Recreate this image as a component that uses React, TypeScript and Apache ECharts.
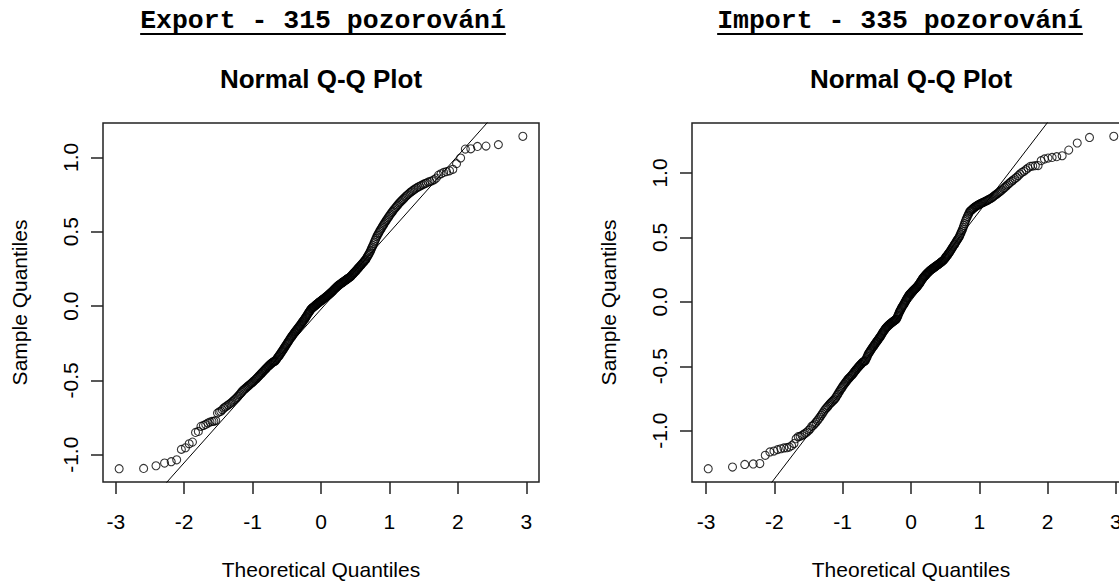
import React, { useEffect, useRef } from "react";
import * as echarts from "echarts";

const exportTitle = "Export - 315 pozorování";
const importTitle = "Import - 335 pozorování";
const plotTitle = "Normal Q-Q Plot";
const xName = "Theoretical Quantiles";
const yName = "Sample Quantiles";
const xTicks = [-3, -2, -1, 0, 1, 2, 3];
const yTicks = [-1, -0.5, 0, 0.5, 1];

// sorted sample values (Export, 315 obs.)
const exportSample = [
  -1.094, -1.092, -1.074, -1.056, -1.047, -1.034, -0.964, -0.953, -0.926, -0.915,
  -0.850, -0.843, -0.809, -0.803, -0.796, -0.787, -0.780, -0.776, -0.775, -0.770,
  -0.720, -0.712, -0.708, -0.697, -0.686,
  -0.679, -0.672, -0.666, -0.659, -0.653,
  -0.645, -0.638, -0.630, -0.623, -0.615,
  -0.606, -0.597, -0.589, -0.580, -0.571,
  -0.565, -0.559, -0.553, -0.547, -0.541,
  -0.536, -0.531, -0.525, -0.520, -0.515,
  -0.509, -0.504, -0.498, -0.493, -0.487,
  -0.481, -0.475, -0.470, -0.464, -0.458,
  -0.452, -0.447, -0.441, -0.436, -0.430,
  -0.425, -0.420, -0.414, -0.409, -0.404,
  -0.400, -0.395, -0.391, -0.386, -0.382,
  -0.379, -0.376, -0.373, -0.371, -0.368,
  -0.362, -0.356, -0.349, -0.343, -0.337,
  -0.331, -0.324, -0.318, -0.311, -0.305,
  -0.298, -0.292, -0.285, -0.279, -0.272,
  -0.266, -0.259, -0.253, -0.246, -0.240,
  -0.234, -0.228, -0.221, -0.215, -0.209,
  -0.203, -0.198, -0.192, -0.187, -0.181,
  -0.176, -0.171, -0.166, -0.161, -0.156,
  -0.151, -0.146, -0.140, -0.135, -0.130,
  -0.125, -0.120, -0.114, -0.109, -0.104,
  -0.099, -0.093, -0.088, -0.082, -0.077,
  -0.071, -0.065, -0.059, -0.053, -0.047,
  -0.041, -0.036, -0.030, -0.025, -0.019,
  -0.016, -0.013, -0.010, -0.007, -0.004,
  -0.001, 0.003, 0.006, 0.009, 0.012,
  0.015, 0.018, 0.021, 0.024, 0.027,
  0.030, 0.033, 0.035, 0.038, 0.041,
  0.044, 0.047, 0.049, 0.052, 0.055,
  0.058, 0.061, 0.064, 0.067, 0.070,
  0.073, 0.076, 0.080, 0.083, 0.086,
  0.090, 0.093, 0.097, 0.100, 0.104,
  0.108, 0.112, 0.115, 0.119, 0.123,
  0.126, 0.130, 0.133, 0.137, 0.140,
  0.143, 0.146, 0.148, 0.151, 0.154,
  0.157, 0.160, 0.162, 0.165, 0.168,
  0.171, 0.174, 0.176, 0.179, 0.182,
  0.185, 0.188, 0.190, 0.193, 0.196,
  0.200, 0.204, 0.209, 0.213, 0.217,
  0.222, 0.226, 0.231, 0.235, 0.240,
  0.245, 0.250, 0.254, 0.259, 0.264,
  0.269, 0.274, 0.279, 0.284, 0.289,
  0.294, 0.299, 0.305, 0.310, 0.315,
  0.323, 0.331, 0.340, 0.348, 0.356,
  0.366, 0.376, 0.387, 0.397, 0.407,
  0.419, 0.431, 0.443, 0.455, 0.467,
  0.476, 0.486, 0.495, 0.505, 0.514,
  0.523, 0.532, 0.541, 0.550, 0.559,
  0.568, 0.577, 0.585, 0.594, 0.603,
  0.612, 0.620, 0.629, 0.637, 0.646,
  0.654, 0.662, 0.671, 0.679, 0.687,
  0.695, 0.702, 0.710, 0.717, 0.725,
  0.733, 0.740, 0.748, 0.755, 0.763,
  0.769, 0.776, 0.782, 0.789, 0.795,
  0.801, 0.806, 0.812, 0.817, 0.823,
  0.827, 0.834, 0.838, 0.843, 0.850,
  0.861, 0.881, 0.890, 0.899, 0.904,
  0.910, 0.920, 0.958, 0.996, 1.056,
  1.058, 1.074, 1.076, 1.086, 1.142,
];

// sorted sample values (Import, 335 obs.)
const importSample = [
  -1.295, -1.282, -1.262, -1.258, -1.255, -1.191, -1.165, -1.158, -1.147, -1.140,
  -1.134, -1.132, -1.127, -1.116, -1.100, -1.062, -1.046, -1.044, -1.036, -1.028,
  -1.018, -1.010, -0.997, -0.985, -0.966,
  -0.959, -0.947, -0.934, -0.922, -0.909,
  -0.895, -0.881, -0.868, -0.854, -0.840,
  -0.830, -0.820, -0.810, -0.800, -0.790,
  -0.782, -0.775, -0.767, -0.760, -0.752,
  -0.740, -0.728, -0.717, -0.705, -0.693,
  -0.683, -0.673, -0.663, -0.653, -0.643,
  -0.635, -0.626, -0.618, -0.609, -0.601,
  -0.595, -0.589, -0.582, -0.576, -0.570,
  -0.563, -0.556, -0.548, -0.541, -0.534,
  -0.527, -0.521, -0.514, -0.508, -0.501,
  -0.495, -0.490, -0.484, -0.479, -0.473,
  -0.468, -0.465, -0.462, -0.459, -0.455,
  -0.444, -0.433, -0.422, -0.411, -0.401,
  -0.394, -0.387, -0.379, -0.372, -0.365,
  -0.358, -0.351, -0.345, -0.338, -0.331,
  -0.325, -0.319, -0.312, -0.306, -0.300,
  -0.294, -0.288, -0.281, -0.275, -0.269,
  -0.262, -0.255, -0.247, -0.240, -0.233,
  -0.227, -0.221, -0.214, -0.208, -0.202,
  -0.198, -0.194, -0.189, -0.185, -0.181,
  -0.177, -0.174, -0.170, -0.167, -0.163,
  -0.160, -0.157, -0.154, -0.151, -0.148,
  -0.145, -0.142, -0.138, -0.135, -0.132,
  -0.122, -0.112, -0.103, -0.093, -0.083,
  -0.075, -0.067, -0.060, -0.052, -0.044,
  -0.037, -0.031, -0.024, -0.018, -0.011,
  -0.003, 0.004, 0.012, 0.019, 0.027,
  0.033, 0.039, 0.046, 0.052, 0.058,
  0.062, 0.066, 0.070, 0.074, 0.078,
  0.082, 0.086, 0.090, 0.094, 0.098,
  0.102, 0.106, 0.110, 0.114, 0.118,
  0.123, 0.129, 0.134, 0.140, 0.145,
  0.152, 0.158, 0.165, 0.171, 0.178,
  0.183, 0.188, 0.193, 0.198, 0.203,
  0.207, 0.211, 0.216, 0.220, 0.224,
  0.228, 0.232, 0.236, 0.240, 0.244,
  0.247, 0.250, 0.254, 0.257, 0.260,
  0.263, 0.266, 0.269, 0.272, 0.275,
  0.278, 0.281, 0.285, 0.288, 0.291,
  0.294, 0.297, 0.301, 0.304, 0.307,
  0.311, 0.315, 0.318, 0.322, 0.326,
  0.332, 0.338, 0.344, 0.350, 0.356,
  0.362, 0.369, 0.375, 0.382, 0.388,
  0.395, 0.403, 0.410, 0.418, 0.425,
  0.433, 0.441, 0.448, 0.456, 0.464,
  0.472, 0.480, 0.487, 0.495, 0.503,
  0.515, 0.527, 0.539, 0.551, 0.563,
  0.578, 0.593, 0.608, 0.623, 0.638,
  0.650, 0.662, 0.675, 0.687, 0.699,
  0.705, 0.710, 0.716, 0.721, 0.727,
  0.731, 0.736, 0.740, 0.745, 0.749,
  0.752, 0.756, 0.759, 0.763, 0.766,
  0.769, 0.773, 0.776, 0.780, 0.783,
  0.787, 0.791, 0.795, 0.799, 0.803,
  0.809, 0.815, 0.822, 0.828, 0.834,
  0.841, 0.848, 0.855, 0.862, 0.869,
  0.879, 0.888, 0.898, 0.907, 0.917,
  0.927, 0.937, 0.946, 0.956, 0.966,
  0.979, 0.992, 1.005, 1.013, 1.026,
  1.039, 1.052, 1.054, 1.057, 1.058,
  1.096, 1.109, 1.116, 1.121, 1.127,
  1.134, 1.178, 1.233, 1.276, 1.285,
];

// inverse standard normal CDF (Acklam)
function qnorm(p: number): number {
  const a = [-39.69683028665376, 220.9460984245205, -275.9285104469687, 138.357751867269, -30.66479806614716, 2.506628277459239];
  const b = [-54.47609879822406, 161.5858368580409, -155.6989798598866, 66.80131188771972, -13.28068155288572];
  const c = [-0.007784894002430293, -0.3223964580411365, -2.400758277161838, -2.549732539343734, 4.374664141464968, 2.938163982698783];
  const d = [0.007784695709041462, 0.3224671290700398, 2.445134137142996, 3.754408661907416];
  const pl = 0.02425;
  if (p < pl) {
    const q = Math.sqrt(-2 * Math.log(p));
    return (((((c[0] * q + c[1]) * q + c[2]) * q + c[3]) * q + c[4]) * q + c[5]) /
      ((((d[0] * q + d[1]) * q + d[2]) * q + d[3]) * q + 1);
  }
  if (p > 1 - pl) {
    const q = Math.sqrt(-2 * Math.log(1 - p));
    return -(((((c[0] * q + c[1]) * q + c[2]) * q + c[3]) * q + c[4]) * q + c[5]) /
      ((((d[0] * q + d[1]) * q + d[2]) * q + d[3]) * q + 1);
  }
  const q = p - 0.5;
  const r = q * q;
  return (((((a[0] * r + a[1]) * r + a[2]) * r + a[3]) * r + a[4]) * r + a[5]) * q /
    (((((b[0] * r + b[1]) * r + b[2]) * r + b[3]) * r + b[4]) * r + 1);
}

function quantile7(s: number[], p: number): number {
  const h = (s.length - 1) * p;
  const lo = Math.floor(h);
  const hi = Math.min(lo + 1, s.length - 1);
  return s[lo] + (h - lo) * (s[hi] - s[lo]);
}

function expand(lo: number, hi: number): [number, number] {
  const e = (hi - lo) * 0.04;
  return [lo - e, hi + e];
}

const FONT = "'Liberation Sans', Arial, sans-serif";
const MONO = "'Liberation Mono', 'Courier New', monospace";

export default function App() {
  const ref = useRef<HTMLDivElement>(null);

  useEffect(() => {
    if (!ref.current) return;
    const chart = echarts.init(ref.current, undefined, { renderer: "svg" });

    const panels = [
      { sample: exportSample, head: exportTitle, grid: { left: 103, top: 123, width: 436, height: 360 }, headX: 323 },
      { sample: importSample, head: importTitle, grid: { left: 692, top: 123, width: 438, height: 360 }, headX: 900 },
    ];

    const grids: any[] = [];
    const xAxes: any[] = [];
    const yAxes: any[] = [];
    const series: any[] = [];
    const graphic: any[] = [];

    panels.forEach((pn, i) => {
      const n = pn.sample.length;
      const pts = pn.sample.map((y, k) => [qnorm((k + 0.5) / n), y]);
      const [xmin, xmax] = expand(pts[0][0], pts[n - 1][0]);
      const [ymin, ymax] = expand(pn.sample[0], pn.sample[n - 1]);
      const q1 = quantile7(pn.sample, 0.25);
      const q3 = quantile7(pn.sample, 0.75);
      const z1 = qnorm(0.25);
      const z3 = qnorm(0.75);
      const slope = (q3 - q1) / (z3 - z1);
      const icpt = q1 - slope * z1;

      grids.push({ ...pn.grid, show: true, borderColor: "#222", borderWidth: 1.5, backgroundColor: "transparent", containLabel: false });
      xAxes.push({
        type: "value", gridIndex: i, min: xmin, max: xmax,
        axisLine: { show: false, onZero: false }, splitLine: { show: false },
        axisTick: { show: true, inside: false, length: 12, customValues: xTicks, lineStyle: { color: "#222", width: 1.5 } },
        axisLabel: { customValues: xTicks, margin: 29, fontSize: 21, lineHeight: 21, fontFamily: FONT, color: "#000", formatter: (v: number) => String(v) },
        name: xName, nameLocation: "middle", nameGap: 77,
        nameTextStyle: { fontSize: 21, lineHeight: 21, fontFamily: FONT, color: "#000" },
      });
      yAxes.push({
        type: "value", gridIndex: i, min: ymin, max: ymax,
        axisLine: { show: false, onZero: false }, splitLine: { show: false },
        axisTick: { show: true, inside: false, length: 12, customValues: yTicks, lineStyle: { color: "#222", width: 1.5 } },
        axisLabel: { customValues: yTicks, rotate: 90, margin: 22, fontSize: 21, lineHeight: 21, fontFamily: FONT, color: "#000", formatter: (v: number) => v.toFixed(1) },
        name: yName, nameLocation: "middle", nameGap: 73,
        nameTextStyle: { fontSize: 21, lineHeight: 21, fontFamily: FONT, color: "#000" },
      });
      series.push({
        type: "scatter", xAxisIndex: i, yAxisIndex: i, data: pts, symbol: "circle", symbolSize: 8,
        itemStyle: { color: "rgba(0,0,0,0)", borderColor: "#000", borderWidth: 1.1 }, silent: true,
      });
      series.push({
        type: "line", xAxisIndex: i, yAxisIndex: i, clip: true, symbol: "none", silent: true,
        data: [[xmin, icpt + slope * xmin], [xmax, icpt + slope * xmax]],
        lineStyle: { color: "#000", width: 1 },
      });

      const fs = 26.5;
      const w = pn.head.length * 0.6 * fs;
      graphic.push({
        type: "text", x: pn.headX, y: 21,
        style: { text: pn.head, fontFamily: MONO, fontWeight: "bold", fontSize: fs, fill: "#000", align: "center", verticalAlign: "middle", textAlign: "center", textVerticalAlign: "middle" },
      });
      graphic.push({
        type: "line", shape: { x1: pn.headX - w / 2, y1: 34, x2: pn.headX + w / 2, y2: 34 },
        style: { stroke: "#000", lineWidth: 2 },
      });
      graphic.push({
        type: "text", x: pn.grid.left + pn.grid.width / 2, y: 79,
        style: { text: plotTitle, fontFamily: FONT, fontWeight: "bold", fontSize: 26, fill: "#000", align: "center", verticalAlign: "middle", textAlign: "center", textVerticalAlign: "middle" },
      });
    });

    chart.setOption({
      animation: false,
      backgroundColor: "#fff",
      grid: grids,
      xAxis: xAxes,
      yAxis: yAxes,
      series,
      graphic,
    });

    return () => chart.dispose();
  }, []);

  return (
    <div style={{ position: "fixed", left: 0, top: 0, width: 1119, height: 585, overflow: "hidden", background: "#fff" }}>
      <div ref={ref} style={{ width: 1178, height: 585 }} />
    </div>
  );
}
